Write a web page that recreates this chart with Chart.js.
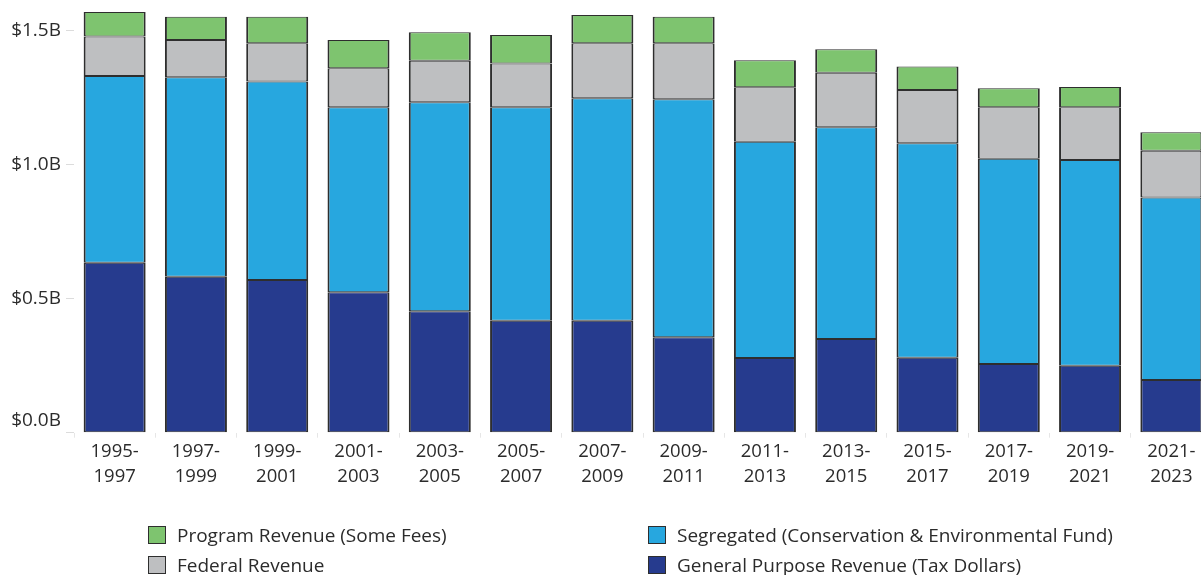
<!DOCTYPE html>
<html>
<head>
<meta charset="utf-8">
<script src="https://cdn.jsdelivr.net/npm/chart.js@4"></script>
<style>
  body { margin: 0; overflow: hidden; background: #fff; font-family: "Open Sans", sans-serif; }
  #wrap { position: absolute; left: 0; top: 0; width: 1212px; height: 575px; }
  .legend-item { position: absolute; display: flex; align-items: center; font-size: 19px; color: #2b2b2b; white-space: nowrap; }
  .legend-item .box { box-sizing: border-box; width: 18px; height: 18px; border: 1.5px solid #2e2e2e; margin-right: 11px; }
</style>
</head>
<body>
<div id="wrap"><canvas id="revenueChart"></canvas></div>
<div id="legend"></div>
<script>
// Biennium labels
const periods = [
  ['1995-', '1997'], ['1997-', '1999'], ['1999-', '2001'], ['2001-', '2003'],
  ['2003-', '2005'], ['2005-', '2007'], ['2007-', '2009'], ['2009-', '2011'],
  ['2011-', '2013'], ['2013-', '2015'], ['2015-', '2017'], ['2017-', '2019'],
  ['2019-', '2021'], ['2021-', '2023']
];

// Revenue by source, billions of dollars
const generalPurpose = [0.634, 0.582, 0.570, 0.524, 0.453, 0.418, 0.418, 0.356, 0.279, 0.350, 0.280, 0.256, 0.250, 0.197];
const segregated     = [0.697, 0.744, 0.740, 0.690, 0.780, 0.796, 0.830, 0.888, 0.807, 0.790, 0.800, 0.766, 0.768, 0.681];
const federal        = [0.147, 0.139, 0.143, 0.146, 0.155, 0.164, 0.205, 0.209, 0.203, 0.203, 0.199, 0.192, 0.196, 0.174];
const programRevenue = [0.092, 0.087, 0.099, 0.105, 0.106, 0.106, 0.106, 0.099, 0.101, 0.088, 0.087, 0.071, 0.076, 0.069];

const yTicks = [0, 0.5, 1.0, 1.5];

const series = [
  { label: 'General Purpose Revenue (Tax Dollars)', data: generalPurpose, color: '#263b8e' },
  { label: 'Segregated (Conservation & Environmental Fund)', data: segregated, color: '#27a7df' },
  { label: 'Federal Revenue', data: federal, color: '#bebfc1' },
  { label: 'Program Revenue (Some Fees)', data: programRevenue, color: '#7ec46f' }
];

const fmt = v => '$' + Number(v).toFixed(1) + 'B';

// Tableau nudges the bottom axis label up so it sits above the baseline
const zeroLabel = {
  id: 'zeroLabel',
  afterDraw(chart) {
    const y = chart.scales.y;
    const c = chart.ctx;
    c.save();
    c.font = '19px "Open Sans"';
    c.fillStyle = '#2b2b2b';
    c.textAlign = 'right';
    c.textBaseline = 'middle';
    c.fillText(fmt(0), y.right - 8 - 5, y.getPixelForValue(0) - 12);
    c.restore();
  }
};

const ctx = document.getElementById('revenueChart').getContext('2d');
new Chart(ctx, {
  type: 'bar',
  data: {
    labels: periods,
    datasets: series.map(s => ({
      label: s.label,
      data: s.data,
      backgroundColor: s.color,
      borderColor: '#2e2e2e',
      borderWidth: { left: 2, right: 2, top: 1, bottom: 1 },
      borderSkipped: false,
      barPercentage: 0.763,
      categoryPercentage: 1
    }))
  },
  options: {
    responsive: true,
    maintainAspectRatio: false,
    animation: false,
    layout: { padding: { top: 3.9, left: 0, right: 0, bottom: 0 } },
    plugins: {
      legend: { display: false },
      tooltip: { enabled: false }
    },
    scales: {
      x: {
        stacked: true,
        offset: true,
        border: { display: false },
        grid: { offset: true, drawOnChartArea: false, drawTicks: true, tickLength: 5, color: '#e6e6e6' },
        ticks: {
          color: '#2b2b2b',
          font: { family: 'Open Sans', size: 18.5, lineHeight: 25 / 18.5 },
          padding: 2,
          maxRotation: 0,
          autoSkip: false
        },
        afterFit: s => { s.height = 575 - 432.7; s.paddingLeft = 0; s.paddingRight = 0; }
      },
      y: {
        stacked: true,
        min: 0,
        max: 1.6,
        border: { display: false },
        grid: { drawOnChartArea: false, drawTicks: true, tickLength: 8, color: '#dcdcdc' },
        ticks: {
          color: '#2b2b2b',
          font: { family: 'Open Sans', size: 19 },
          padding: 5,
          callback: v => (v === 0 ? '' : fmt(v))
        },
        afterBuildTicks: s => { s.ticks = yTicks.map(v => ({ value: v })); },
        afterFit: s => { s.width = 74; s.paddingTop = 0; s.paddingBottom = 0; }
      }
    }
  },
  plugins: [zeroLabel]
});

// Two-column legend below the chart
const legendLayout = [
  { idx: 3, x: 148, y: 535 },
  { idx: 1, x: 648, y: 535 },
  { idx: 2, x: 148, y: 565 },
  { idx: 0, x: 648, y: 565 }
];
const legendEl = document.getElementById('legend');
legendLayout.forEach(item => {
  const s = series[item.idx];
  const div = document.createElement('div');
  div.className = 'legend-item';
  div.style.left = item.x + 'px';
  div.style.top = (item.y - 13) + 'px';
  div.style.height = '26px';
  const box = document.createElement('span');
  box.className = 'box';
  box.style.background = s.color;
  const txt = document.createElement('span');
  txt.textContent = s.label;
  div.appendChild(box);
  div.appendChild(txt);
  legendEl.appendChild(div);
});
</script>
</body>
</html>
